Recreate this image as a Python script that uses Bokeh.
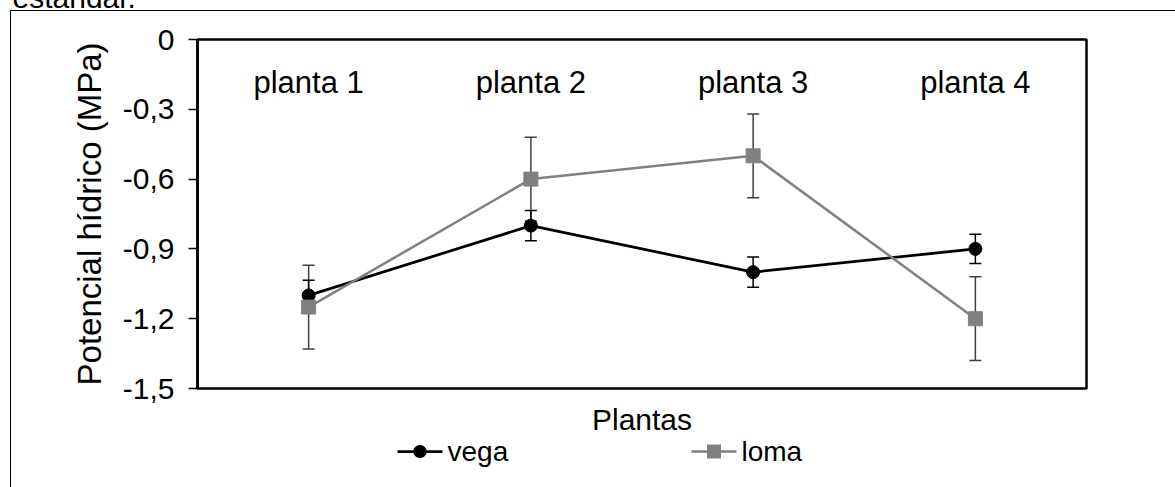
from bokeh.plotting import figure
from bokeh.models import (FactorRange, Range1d, FixedTicker, CustomJSTickFormatter, Whisker,
                          ColumnDataSource, TeeHead)
from bokeh.core.properties import value
from bokeh.embed import file_html
from bokeh.resources import INLINE

# ---- data ----
plantas = ["planta 1", "planta 2", "planta 3", "planta 4"]
vega = [-1.10, -0.80, -1.00, -0.90]
vega_err = [0.065, 0.065, 0.065, 0.063]
loma = [-1.15, -0.60, -0.50, -1.20]
loma_err = [0.18, 0.18, 0.18, 0.18]
y_ticks = [0, -0.3, -0.6, -0.9, -1.2, -1.5]
series_names = ["vega", "loma"]
caption_above = "estándar."

FONT = "Liberation Sans"
FS = "30px"
GRAY = "#808080"

# layout in pixels
W, H = 1175, 487
F_LEFT, F_RIGHT, F_TOP, F_BOTTOM = 197, 1086, 39, 388
Y_MIN, Y_MAX = -1.5, 0.0
N_CAT = len(plantas)


def px_x(px):
    """canvas pixel -> synthetic categorical x coordinate"""
    return (px - F_LEFT) / (F_RIGHT - F_LEFT) * N_CAT


def px_y(py):
    """canvas pixel (from top) -> data y"""
    return Y_MAX - (py - F_TOP) / (F_BOTTOM - F_TOP) * (Y_MAX - Y_MIN)


src_v = ColumnDataSource(dict(x=plantas, y=vega,
                              lo=[a - e for a, e in zip(vega, vega_err)],
                              hi=[a + e for a, e in zip(vega, vega_err)]))
src_l = ColumnDataSource(dict(x=plantas, y=loma,
                              lo=[a - e for a, e in zip(loma, loma_err)],
                              hi=[a + e for a, e in zip(loma, loma_err)]))

p = figure(width=W, height=H, x_range=FactorRange(*plantas, range_padding=0),
           y_range=Range1d(Y_MIN, Y_MAX), output_backend="svg", toolbar_location=None,
           min_border_left=F_LEFT, min_border_right=W - F_RIGHT,
           min_border_top=F_TOP, min_border_bottom=H - F_BOTTOM)
p.xgrid.grid_line_color = None
p.ygrid.grid_line_color = None
p.outline_line_color = "black"
p.outline_line_width = 2.5
p.outline_line_alpha = 1
p.background_fill_color = "white"
p.border_fill_color = None
# thin outer chart frame (top and left edges) as in the reference
p.styles = {
    "background-color": "white",
    "background-image": "linear-gradient(black, black), linear-gradient(black, black)",
    "background-size": "1165px 1px, 1px 477px",
    "background-position": "10px 10px, 10px 10px",
    "background-repeat": "no-repeat",
}

# y axis
ya = p.yaxis[0]
ya.ticker = FixedTicker(ticks=y_ticks)
ya.formatter = CustomJSTickFormatter(code="""
if (Math.abs(tick) < 1e-9) return "0";
return tick.toFixed(1).replace('.', ',');
""")
ya.axis_label = "Potencial hídrico (MPa)"
ya.axis_label_text_font = FONT
ya.axis_label_text_font_size = "33px"
ya.axis_label_text_font_style = "normal"
ya.axis_label_text_color = "black"
ya.axis_label_standoff = 12
ya.major_label_text_font = FONT
ya.major_label_text_font_size = FS
ya.major_label_text_color = "black"
ya.major_label_standoff = 14
ya.major_tick_out = 9
ya.major_tick_in = 0
ya.major_tick_line_width = 1.5
ya.minor_tick_line_color = None
ya.axis_line_width = 2.5

# x axis
xa = p.xaxis[0]
xa.axis_label = "Plantas"
xa.axis_label_text_font = FONT
xa.axis_label_text_font_size = FS
xa.axis_label_text_font_style = "normal"
xa.axis_label_text_color = "black"
xa.axis_label_standoff = 14
xa.major_label_text_font_size = "0px"
xa.major_label_standoff = 0
xa.major_tick_line_color = None
xa.major_tick_out = 0
xa.minor_tick_line_color = None
xa.axis_line_color = None

# error bars
p.add_layout(Whisker(source=src_l, base="x", lower="lo", upper="hi", line_color="#404040",
                     line_width=1.5, level="underlay",
                     upper_head=TeeHead(size=12, line_color="#404040", line_width=1.5),
                     lower_head=TeeHead(size=12, line_color="#404040", line_width=1.5)))
p.add_layout(Whisker(source=src_v, base="x", lower="lo", upper="hi", line_color="black",
                     line_width=1.5, level="underlay",
                     upper_head=TeeHead(size=12, line_color="black", line_width=1.5),
                     lower_head=TeeHead(size=12, line_color="black", line_width=1.5)))

# series
styles = [dict(color="black", marker="circle", size=13, lw=2.75),
          dict(color=GRAY, marker="square", size=14, lw=2.5)]
for src, st in zip([src_v, src_l], styles):
    p.line("x", "y", source=src, line_color=st["color"], line_width=st["lw"])
    p.scatter("x", "y", source=src, marker=st["marker"], size=st["size"],
              fill_color=st["color"], line_color=st["color"])

# category labels inside the plot
label_y = px_y(82)
p.text(x=plantas, y=[label_y] * len(plantas), text=plantas, text_align="center",
       text_baseline="alphabetic", text_font=value(FONT), text_font_size="31px", text_color="black")

# cut-off caption text above the chart frame (only its lower part is visible)
p.text(x=[px_x(12)], y=[px_y(-3)], text=[caption_above], text_align="left",
       text_baseline="alphabetic", text_font=value(FONT), text_font_size=FS,
       text_color="black", level="overlay")

# legend below the axis title (line + marker + label per series)
LEG_Y = 451
leg_starts = [397, 691]
for name, st, x0 in zip(series_names, styles, leg_starts):
    yl = px_y(LEG_Y)
    xc = x0 + 22.5
    p.segment(x0=[px_x(x0)], y0=[yl], x1=[px_x(x0 + 45)], y1=[yl],
              line_color=st["color"], line_width=st["lw"], level="overlay")
    if st["marker"] == "circle":
        # round dot
        p.segment(x0=[px_x(xc - 0.25)], y0=[yl], x1=[px_x(xc + 0.25)], y1=[yl],
                  line_color=st["color"], line_width=st["size"], line_cap="round",
                  level="overlay")
    else:
        # square
        half = st["size"] / 2
        p.segment(x0=[px_x(xc - half)], y0=[yl], x1=[px_x(xc + half)], y1=[yl],
                  line_color=st["color"], line_width=st["size"], line_cap="butt",
                  level="overlay")
    p.text(x=[px_x(x0 + 50)], y=[yl], text=[name], text_align="left",
           text_baseline="middle", text_font=value(FONT), text_font_size="28px",
           text_color="black", level="overlay")

open("out.html", "w").write(file_html(p, INLINE))
